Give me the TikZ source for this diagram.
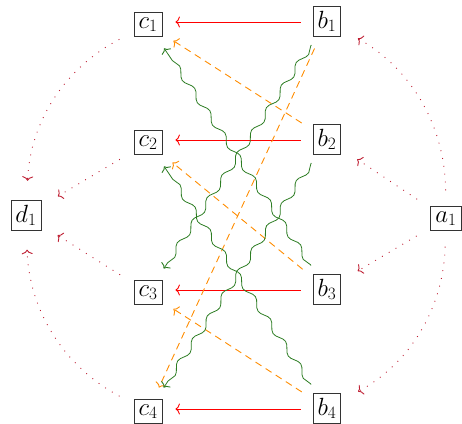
\documentclass[tikz,border=0pt]{standalone}
\usetikzlibrary{arrows.meta,decorations.pathmorphing}
\definecolor{dotred}{RGB}{190,30,50}
\definecolor{wavegreen}{RGB}{45,125,35}
\definecolor{dashorange}{RGB}{255,140,0}
\tikzset{
  obj/.style={draw=black!80, line width=0.9pt, inner sep=4.5pt,
    font=\fontsize{24}{28}\selectfont, anchor=base},
  cmtip/.style={-{Computer Modern Rightarrow[length=4.5pt,width=11pt,line width=0.9pt]}},
  mainarr/.style={cmtip, red, line width=1pt, shorten <=12pt, shorten >=13pt},
  crossarr/.style={cmtip, dashorange, line width=0.9pt,
    dash pattern=on 7pt off 5pt, shorten <=13pt, shorten >=13pt},
  wavearr/.style={cmtip, wavegreen, line width=0.8pt, decorate,
    decoration={snake, amplitude=3pt, segment length=27pt,
      pre length=11pt, post length=19pt},
    shorten <=10pt, shorten >=14pt},
  faintarr/.style={cmtip, dotred, line width=0.9pt,
    dash pattern=on 0.9pt off 7pt, shorten <=16pt, shorten >=19pt},
}
\begin{document}
\begin{tikzpicture}[x=1pt,y=-1pt]
  \useasboundingbox (0,0) rectangle (462,423);
  % objects
  \node[obj] (c1) at (148,28)  {$c_1$};
  \node[obj] (c2) at (148,146) {$c_2$};
  \node[obj] (c3) at (148,296) {$c_3$};
  \node[obj] (c4) at (148,415) {$c_4$};
  \node[obj] (b1) at (327,28)  {$b_1$};
  \node[obj] (b2) at (327,146) {$b_2$};
  \node[obj] (b3) at (327,296) {$b_3$};
  \node[obj] (b4) at (327,415) {$b_4$};
  \node[obj] (d1) at (26,222)  {$d_1$};
  \node[obj] (a1) at (446,222) {$a_1$};
  % horizontal maps, drawn on the math axis of each row
  \foreach \i in {1,...,4}
    \draw[mainarr] ([yshift=6pt]b\i.base west) -- ([yshift=6pt]c\i.base east);
  % dashed shifted maps
  \draw[crossarr] (b2) -- (c1);
  \draw[crossarr] (b3) -- (c2);
  \draw[crossarr] (b4) -- (c3);
  \draw[crossarr] (b1) -- (c4);
  % squiggly maps
  \draw[wavearr] (b1) -- (c3);
  \draw[wavearr] (b2) -- (c4);
  \draw[wavearr] (b3) -- (c1);
  \draw[wavearr] (b4) -- (c2);
  % dotted maps out of a1
  \draw[faintarr] (a1) to[bend right=30] (b1);
  \draw[faintarr] (a1) -- (b2);
  \draw[faintarr] (a1) -- (b3);
  \draw[faintarr] (a1) to[bend left=30] (b4);
  % dotted maps into d1
  \draw[faintarr] (c1) to[bend right=30] (d1);
  \draw[faintarr] (c2) -- (d1);
  \draw[faintarr] (c3) -- (d1);
  \draw[faintarr] (c4) to[bend left=30] (d1);
\end{tikzpicture}
\end{document}
